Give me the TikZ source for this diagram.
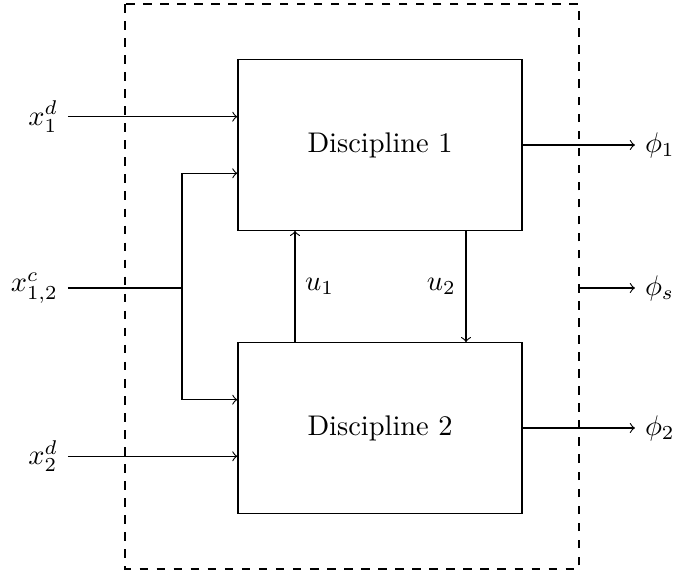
\documentclass[tikz,border=0pt]{standalone}
\begin{document}
\begin{tikzpicture}[x=0.352pt,y=-0.352pt,
  discbox/.style={draw,minimum width=100pt,minimum height=60pt,inner sep=0pt},
  lbl/.style={inner sep=0.333em},
  flow/.style={->}]
\useasboundingbox (0,0) rectangle (675,571);
\draw[dashed] (125,4) rectangle (579,569);
\node[discbox] (d1) at (380,145) {Discipline 1};
\node[discbox] (d2) at (380,428) {Discipline 2};
% inputs
\node[lbl,anchor=east] (x1) at (68,116.7) {$x_1^d$};
\node[lbl,anchor=east] (xc) at (68,288) {$x_{1,2}^c$};
\node[lbl,anchor=east] (x2) at (68,456.3) {$x_2^d$};
\coordinate (br) at (182,288);
\draw[flow] (x1.east) -- (x1.east -| d1.west);
\draw (xc.east) -- (br);
\draw[flow] (br) |- (d1.west |- 0,173.3);
\draw[flow] (br) |- (d2.west |- 0,399.7);
\draw[flow] (x2.east) -- (x2.east -| d2.west);
% outputs
\node[lbl,anchor=west] (p1) at (635,145) {$\phi_1$};
\node[lbl,anchor=west] (ps) at (635,288) {$\phi_s$};
\node[lbl,anchor=west] (p2) at (635,428) {$\phi_2$};
\coordinate (sb) at (579,288);
\draw[flow] (d1.east) -- (p1.west);
\draw[flow] (sb) -- (ps.west);
\draw[flow] (d2.east) -- (p2.west);
% couplings
\draw[flow] (d2.north -| 295,0) -- (d1.south -| 295,0) node[pos=0.5,right,lbl] (u1) {$u_1$};
\draw[flow] (d1.south -| 466,0) -- (d2.north -| 466,0) node[pos=0.5,left,lbl] (u2) {$u_2$};
\end{tikzpicture}
\end{document}
